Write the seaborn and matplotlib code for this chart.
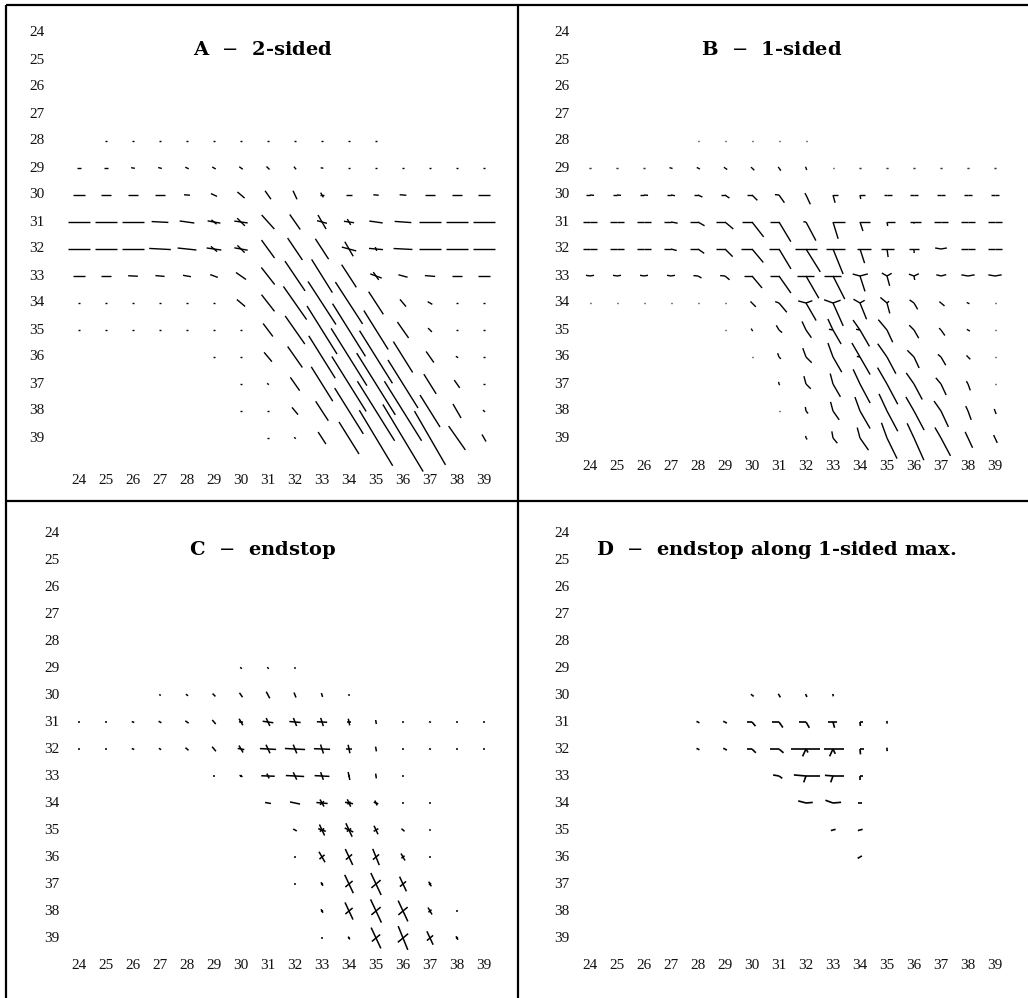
import numpy as np
import pandas as pd
import matplotlib
matplotlib.use("Agg")
import matplotlib.pyplot as plt
from matplotlib.lines import Line2D
import seaborn as sns

sns.set_theme(style="white")
plt.rcParams['font.family'] = ['Liberation Serif', 'DejaVu Serif']
plt.rcParams['mathtext.fontset'] = 'dejavuserif'

# grid positions shown on both axes
GRID = list(range(24, 40))
TICK_LABELS = [str(v) for v in GRID]

# ---------------------------------------------------------------------------
# Orientation fields.  Each row maps to a list of (column, strokes);
# each stroke is (angle in degrees, counter-clockwise from horizontal, length in grid units).
# Two-sided panels draw a bar centred on the grid point, one-sided panels a ray from it.
# ---------------------------------------------------------------------------
A_2SIDED = {
    28: [(25, [(0, .06)]), (26, [(0, .06)]), (27, [(0, .06)]), (28, [(0, .06)]), (29, [(0, .06)]),
         (30, [(0, .06)]), (31, [(0, .06)]), (32, [(0, .06)]), (33, [(0, .06)]), (34, [(0, .06)]),
         (35, [(0, .06)])],
    29: [(24, [(0, .12)]), (25, [(0, .12)]), (26, [(-10, .14)]), (27, [(-15, .14)]), (28, [(-25, .14)]),
         (29, [(-30, .15)]), (30, [(-35, .16)]), (31, [(-45, .16)]), (32, [(-50, .13)]), (33, [(-10, .1)]),
         (34, [(0, .1)]), (35, [(0, .1)]), (36, [(0, .1)]), (37, [(0, .1)]), (38, [(0, .1)]), (39, [(0, .1)])],
    30: [(24, [(0, .42)]), (25, [(0, .4)]), (26, [(0, .4)]), (27, [(0, .38)]), (28, [(-5, .22)]),
         (29, [(-25, .25)]), (30, [(-40, .35)]), (31, [(-55, .38)]), (32, [(-65, .35)]),
         (33, [(-60, .2), (0, .15)]), (34, [(0, .2)]), (35, [(-5, .2)]), (36, [(-5, .25)]),
         (37, [(0, .35)]), (38, [(0, .38)]), (39, [(0, .42)])],
    31: [(24, [(0, .8)]), (25, [(0, .8)]), (26, [(0, .78)]), (27, [(-3, .62)]), (28, [(-8, .55)]),
         (29, [(-10, .48), (-40, .25)]), (30, [(-8, .5), (-45, .4)]), (31, [(-48, .7)]), (32, [(-55, .68)]),
         (33, [(-60, .6), (-15, .38)]), (34, [(-8, .38), (-60, .25)]), (35, [(-8, .5)]), (36, [(-4, .62)]),
         (37, [(0, .8)]), (38, [(0, .82)]), (39, [(0, .85)])],
    32: [(24, [(0, .85)]), (25, [(0, .85)]), (26, [(0, .85)]), (27, [(-3, .8)]), (28, [(-6, .7)]),
         (29, [(-8, .55), (-40, .3)]), (30, [(-10, .5), (-45, .38)]), (31, [(-54, .82)]), (32, [(-56, .98)]),
         (33, [(-57, .9)]), (34, [(-60, .62), (-15, .55)]), (35, [(-5, .52), (-70, .15)]), (36, [(-3, .7)]),
         (37, [(0, .85)]), (38, [(0, .85)]), (39, [(0, .85)])],
    33: [(24, [(0, .42)]), (25, [(0, .38)]), (26, [(-3, .36)]), (27, [(-5, .34)]), (28, [(-10, .3)]),
         (29, [(-20, .3)]), (30, [(-35, .45)]), (31, [(-52, .8)]), (32, [(-56, 1.33)]), (33, [(-58, 1.45)]),
         (34, [(-57, 1.0)]), (35, [(-20, .45), (-55, .35)]), (36, [(-15, .35)]), (37, [(-5, .38)]),
         (38, [(0, .4)]), (39, [(0, .42)])],
    34: [(24, [(0, .07)]), (25, [(0, .07)]), (26, [(0, .07)]), (27, [(0, .07)]), (28, [(0, .07)]),
         (29, [(0, .07)]), (30, [(-40, .4)]), (31, [(-52, .78)]), (32, [(-55, 1.5)]), (33, [(-57, 1.9)]),
         (34, [(-57, 1.85)]), (35, [(-57, 1.0)]), (36, [(-50, .35)]), (37, [(-30, .2)]), (38, [(0, .1)]),
         (39, [(0, .1)])],
    35: [(24, [(0, .05)]), (25, [(0, .05)]), (26, [(0, .05)]), (27, [(0, .05)]), (28, [(0, .05)]),
         (29, [(0, .05)]), (30, [(0, .05)]), (31, [(-53, .6)]), (32, [(-55, 1.27)]), (33, [(-58, 2.1)]),
         (34, [(-58, 2.3)]), (35, [(-58, 1.7)]), (36, [(-55, .72)]), (37, [(-45, .2)]), (38, [(0, .07)]),
         (39, [(0, .07)])],
    36: [(29, [(0, .05)]), (30, [(0, .07)]), (31, [(-50, .45)]), (32, [(-55, .95)]), (33, [(-58, 1.85)]),
         (34, [(-58, 2.5)]), (35, [(-58, 2.3)]), (36, [(-58, 1.35)]), (37, [(-55, .5)]), (38, [(-30, .1)]),
         (39, [(0, .07)])],
    37: [(30, [(0, .05)]), (31, [(-40, .08)]), (32, [(-55, .6)]), (33, [(-58, 1.5)]), (34, [(-58, 2.4)]),
         (35, [(-58, 2.7)]), (36, [(-58, 2.1)]), (37, [(-58, .86)]), (38, [(-55, .35)]), (39, [(0, .07)])],
    38: [(30, [(0, .05)]), (31, [(0, .06)]), (32, [(-50, .35)]), (33, [(-57, .86)]), (34, [(-58, 2.0)]),
         (35, [(-58, 2.6)]), (36, [(-58, 2.6)]), (37, [(-58, 1.4)]), (38, [(-60, .6)]), (39, [(-40, .1)])],
    39: [(31, [(0, .05)]), (32, [(-30, .08)]), (33, [(-57, .53)]), (34, [(-58, 1.4)]), (35, [(-59, 2.4)]),
         (36, [(-59, 2.9)]), (37, [(-60, 2.3)]), (38, [(-55, 1.08)]), (39, [(-60, .3)])],
}

B_1SIDED = {
    28: [(28, [(0, .04)]), (29, [(0, .04)]), (30, [(0, .04)]), (31, [(0, .04)]), (32, [(0, .04)])],
    29: [(24, [(180, .05), (0, .05)]), (25, [(180, .05), (0, .05)]), (26, [(180, .05), (0, .05)]),
         (27, [(170, .06), (-20, .06)]), (28, [(160, .05), (-30, .08)]), (29, [(150, .05), (-35, .1)]),
         (30, [(145, .05), (-45, .12)]), (31, [(130, .05), (-55, .12)]), (32, [(110, .05), (-70, .08)]),
         (33, [(0, .04)]), (34, [(180, .04), (0, .04)]), (35, [(180, .04), (0, .04)]),
         (36, [(180, .04), (0, .04)]), (37, [(180, .04), (0, .04)]), (38, [(180, .04), (0, .04)]),
         (39, [(180, .04), (0, .04)])],
    30: [(24, [(180, .15), (-5, .15)]), (25, [(180, .15), (-5, .15)]), (26, [(180, .15), (-5, .15)]),
         (27, [(180, .15), (-10, .15)]), (28, [(180, .15), (-25, .18)]), (29, [(180, .15), (-35, .2)]),
         (30, [(180, .18), (-45, .28)]), (31, [(175, .15), (-55, .35)]), (32, [(120, .08), (-65, .38)]),
         (33, [(0, .17), (-75, .3)]), (34, [(0, .2), (-80, .15)]), (35, [(180, .1), (0, .2)]),
         (36, [(180, .15), (0, .15)]), (37, [(180, .15), (0, .15)]), (38, [(180, .15), (0, .15)]),
         (39, [(180, .15), (0, .15)])],
    31: [(24, [(180, .27), (0, .25)]), (25, [(180, .27), (0, .25)]), (26, [(180, .27), (0, .25)]),
         (27, [(180, .27), (-10, .25)]), (28, [(180, .3), (-30, .28)]), (29, [(180, .32), (-40, .4)]),
         (30, [(180, .37), (-52, .7)]), (31, [(180, .33), (-59, .85)]), (32, [(175, .1), (-62, .78)]),
         (33, [(0, .43), (-73, .65)]), (34, [(0, .36), (-72, .35)]), (35, [(0, .3), (-80, .15)]),
         (36, [(180, .15), (0, .25), (-85, .06)]), (37, [(180, .27), (0, .27)]),
         (38, [(180, .27), (0, .27)]), (39, [(180, .27), (0, .27)])],
    32: [(24, [(180, .27), (0, .25)]), (25, [(180, .27), (0, .25)]), (26, [(180, .27), (0, .25)]),
         (27, [(180, .27), (-15, .22)]), (28, [(180, .3), (-35, .28)]), (29, [(180, .35), (-45, .4)]),
         (30, [(180, .4), (-50, .65)]), (31, [(180, .37), (-59, .86)]),
         (32, [(180, .42), (0, .4), (-58, 1.0)]), (33, [(180, .25), (0, .45), (-68, 1.0)]),
         (34, [(180, .1), (0, .4), (-72, .55)]), (35, [(180, .22), (0, .25), (-82, .3)]),
         (36, [(180, .2), (0, .2), (-88, .15)]), (37, [(170, .22), (10, .22)]),
         (38, [(180, .27), (0, .27)]), (39, [(180, .27), (0, .27)])],
    33: [(24, [(170, .15), (10, .15)]), (25, [(170, .15), (10, .15)]), (26, [(170, .15), (10, .15)]),
         (27, [(170, .15), (10, .15)]), (28, [(175, .17), (-30, .15)]), (29, [(175, .18), (-40, .22)]),
         (30, [(180, .3), (-50, .58)]), (31, [(180, .35), (-55, .77)]),
         (32, [(180, .35), (0, .3), (-60, .95)]), (33, [(180, .33), (0, .3), (-63, .96)]),
         (34, [(165, .28), (15, .3), (-72, .6)]), (35, [(150, .22), (30, .2), (-75, .38)]),
         (36, [(160, .2), (25, .2), (-80, .15)]), (37, [(165, .18), (15, .2)]),
         (38, [(170, .25), (10, .25)]), (39, [(170, .25), (10, .25)])],
    34: [(24, [(0, .05)]), (25, [(0, .05)]), (26, [(0, .05)]), (27, [(0, .05)]), (28, [(0, .05)]),
         (29, [(0, .05)]), (30, [(135, .08), (-45, .2)]), (31, [(160, .15), (-50, .45)]),
         (32, [(165, .3), (20, .25), (-60, .75)]), (33, [(160, .35), (20, .3), (-66, .93)]),
         (34, [(150, .28), (30, .2), (-68, .65)]), (35, [(140, .32), (40, .1), (-75, .4)]),
         (36, [(145, .2), (-60, .27)]), (37, [(140, .08), (-40, .17)]), (38, [(160, .05), (-30, .06)]),
         (39, [(0, .04)])],
    35: [(29, [(0, .04)]), (30, [(120, .06), (-60, .05)]), (31, [(120, .2), (-40, .15)]),
         (32, [(115, .35), (-55, .35)]), (33, [(115, .45), (-60, .6), (170, .15)]),
         (34, [(125, .45), (-60, .7), (170, .15)]), (35, [(130, .5), (-65, .5)]),
         (36, [(135, .25), (-60, .35)]), (37, [(135, .1), (-55, .25)]), (38, [(150, .05), (-30, .08)]),
         (39, [(0, .04)])],
    36: [(30, [(0, .04)]), (31, [(110, .15), (-45, .1)]), (32, [(110, .35), (-45, .3)]),
         (33, [(110, .55), (-60, .65)]), (34, [(120, .6), (-60, .75), (170, .12)]),
         (35, [(125, .6), (-62, .7)]), (36, [(135, .35), (-65, .45)]), (37, [(140, .15), (-60, .35)]),
         (38, [(135, .08), (-45, .12)]), (39, [(0, .04)])],
    37: [(31, [(100, .08), (-60, .05)]), (32, [(105, .3), (-45, .25)]), (33, [(105, .4), (-60, .55)]),
         (34, [(115, .6), (-62, .8)]), (35, [(120, .7), (-62, .85)]), (36, [(125, .5), (-62, .65)]),
         (37, [(130, .3), (-65, .45)]), (38, [(120, .12), (-70, .25)]), (39, [(0, .04)])],
    38: [(31, [(0, .04)]), (32, [(100, .15), (-50, .12)]), (33, [(105, .35), (-55, .4)]),
         (34, [(110, .55), (-60, .75)]), (35, [(115, .7), (-62, .85)]), (36, [(120, .6), (-62, .8)]),
         (37, [(125, .45), (-65, .65)]), (38, [(115, .2), (-70, .35)]), (39, [(110, .08), (-70, .12)])],
    39: [(32, [(100, .08), (-50, .07)]), (33, [(100, .25), (-50, .25)]), (34, [(105, .4), (-55, .55)]),
         (35, [(110, .6), (-64, .85)]), (36, [(115, .6), (-66, .9)]), (37, [(120, .45), (-62, .75)]),
         (38, [(115, .25), (-65, .4)]), (39, [(115, .12), (-65, .2)])],
}

C_ENDSTOP = {
    29: [(30, [(-40, .08)]), (31, [(-50, .08)]), (32, [(-55, .07)])],
    30: [(27, [(-30, .07)]), (28, [(-35, .1)]), (29, [(-45, .15)]), (30, [(-55, .2)]), (31, [(-62, .28)]),
         (32, [(-68, .2)]), (33, [(-72, .15)]), (34, [(-80, .07)])],
    31: [(24, [(0, .06)]), (25, [(0, .06)]), (26, [(-20, .1)]), (27, [(-30, .12)]), (28, [(-35, .15)]),
         (29, [(-50, .2)]), (30, [(-60, .28), (-5, .15)]), (31, [(-65, .32), (-8, .4)]),
         (32, [(-68, .32), (-5, .42)]), (33, [(-72, .32), (-3, .38)]), (34, [(-78, .25), (0, .18)]),
         (35, [(-80, .15)]), (36, [(0, .06)]), (37, [(-20, .08)]), (38, [(0, .06)]), (39, [(0, .06)])],
    32: [(24, [(0, .06)]), (25, [(0, .06)]), (26, [(-20, .1)]), (27, [(-30, .1)]), (28, [(-40, .15)]),
         (29, [(-50, .22)]), (30, [(-60, .3), (-10, .25)]), (31, [(-65, .35), (-3, .6)]),
         (32, [(-68, .35), (-3, .75)]), (33, [(-72, .35), (-2, .6)]), (34, [(-78, .32), (0, .22)]),
         (35, [(-80, .18)]), (36, [(0, .06)]), (37, [(-15, .08)]), (38, [(0, .06)]), (39, [(0, .06)])],
    33: [(29, [(0, .05)]), (30, [(-30, .12), (20, .08)]), (31, [(-2, .5), (-65, .2)]),
         (32, [(-3, .68), (-65, .3)]), (33, [(-3, .55), (-70, .3)]), (34, [(-78, .3), (0, .1)]),
         (35, [(-82, .18)]), (36, [(0, .06)])],
    34: [(31, [(-10, .22)]), (32, [(-12, .38)]), (33, [(-5, .42), (-60, .3), (40, .2)]),
         (34, [(-10, .3), (-65, .3), (40, .15)]), (35, [(-20, .18), (-65, .2)]), (36, [(0, .06)]),
         (37, [(0, .06)])],
    35: [(32, [(-30, .15)]), (33, [(-65, .45), (-20, .3), (35, .2)]), (34, [(-65, .55), (-25, .35), (35, .2)]),
         (35, [(-65, .35), (30, .2)]), (36, [(-40, .15)]), (37, [(-30, .07)])],
    36: [(32, [(0, .06)]), (33, [(-60, .45), (40, .25)]), (34, [(-65, .65), (40, .3)]),
         (35, [(-68, .65), (40, .3)]), (36, [(-60, .3), (40, .15)]), (37, [(0, .08)])],
    37: [(32, [(0, .06)]), (33, [(-60, .15), (40, .08)]), (34, [(-65, .75), (40, .35)]),
         (35, [(-65, .9), (40, .45)]), (36, [(-65, .6), (40, .3)]), (37, [(-60, .2), (40, .1)])],
    38: [(33, [(-60, .15), (40, .08)]), (34, [(-65, .7), (40, .35)]), (35, [(-65, .95), (40, .45)]),
         (36, [(-65, .85), (40, .45)]), (37, [(-60, .3), (40, .15)]), (38, [(0, .06)])],
    39: [(33, [(0, .06)]), (34, [(-60, .12), (40, .06)]), (35, [(-65, .85), (40, .4)]),
         (36, [(-68, .95), (40, .5)]), (37, [(-65, .55), (40, .3)]), (38, [(-60, .15), (40, .08)])],
}

D_ENDSTOP_1SIDED = {
    30: [(30, [(150, .05), (-40, .08)]), (31, [(120, .05), (-60, .1)]), (32, [(110, .04), (-65, .08)]),
         (33, [(100, .04), (-75, .05)])],
    31: [(28, [(160, .06), (-30, .06)]), (29, [(160, .07), (-35, .08)]), (30, [(180, .2), (-50, .2)]),
         (31, [(180, .25), (-55, .25)]), (32, [(180, .25), (-60, .25)]),
         (33, [(180, .18), (0, .15), (-75, .22)]), (34, [(0, .1), (-85, .15)]), (35, [(95, .04), (-85, .06)])],
    32: [(28, [(160, .06), (-30, .06)]), (29, [(160, .07), (-35, .08)]), (30, [(180, .2), (-45, .2)]),
         (31, [(180, .35), (-40, .22)]), (32, [(180, .55), (0, .5), (-115, .3), (-60, .15)]),
         (33, [(180, .35), (0, .4), (-115, .3), (-65, .2)]), (34, [(0, .15), (-85, .2)]),
         (35, [(95, .05), (-85, .08)])],
    33: [(31, [(170, .22), (-35, .15)]), (32, [(175, .45), (0, .5), (-110, .25)]),
         (33, [(175, .3), (0, .4), (-110, .25)]), (34, [(0, .1), (-90, .15)])],
    34: [(32, [(165, .3), (5, .25)]), (33, [(160, .3), (5, .3)]), (34, [(180, .08), (0, .08)])],
    35: [(33, [(195, .08), (15, .1)]), (34, [(195, .08), (15, .1)])],
    36: [(34, [(210, .1), (30, .08)])],
}

PANEL_TITLES = ["A  $-$  2-sided", "B  $-$  1-sided", "C  $-$  endstop",
                "D  $-$  endstop along 1-sided max."]

W, H = 1028, 998
STEP = 27.0          # pixels per grid unit
MID_X, MID_Y = 518, 501

panels = [
    # glyphs, two-sided, box (l, t, r, b), grid origin, y-label x, x-label y, title centre, line width
    dict(glyphs=A_2SIDED, two=True, box=(6, 5, MID_X, MID_Y), origin=(79, 33),
         ylab_x=37, xlab_y=480, title_xy=(263, 50), lw=1.0),
    dict(glyphs=B_1SIDED, two=False, box=(MID_X, 5, W, MID_Y), origin=(590, 33),
         ylab_x=562, xlab_y=467, title_xy=(772, 50), lw=1.0),
    dict(glyphs=C_ENDSTOP, two=True, box=(6, MID_Y, MID_X, H), origin=(79, 533),
         ylab_x=52, xlab_y=965, title_xy=(263, 550), lw=1.1),
    dict(glyphs=D_ENDSTOP_1SIDED, two=False, box=(MID_X, MID_Y, W, H), origin=(590, 533),
         ylab_x=562, xlab_y=965, title_xy=(776, 550), lw=1.2),
]


def segments(glyphs, two_sided):
    recs = []
    k = 0
    for row, cells in glyphs.items():
        for col, strokes in cells:
            for ang, ln in strokes:
                t = np.deg2rad(ang)
                dx, dy = np.cos(t) * ln, -np.sin(t) * ln   # rows grow downwards
                if two_sided:
                    p0 = (col - dx / 2, row - dy / 2)
                    p1 = (col + dx / 2, row + dy / 2)
                else:
                    p0 = (col, row)
                    p1 = (col + dx, row + dy)
                recs.append((k, p0[0], p0[1]))
                recs.append((k, p1[0], p1[1]))
                k += 1
    return pd.DataFrame(recs, columns=["seg", "x", "y"])


fig = plt.figure(figsize=(W / 100, H / 100), dpi=100)
fig.patch.set_facecolor("white")

for p, title in zip(panels, PANEL_TITLES):
    l, t, r, b = p["box"]
    x0, y0 = p["origin"]
    ax = fig.add_axes([l / W, 1 - b / H, (r - l) / W, (b - t) / H])
    ax.set_xlim(24 + (l - x0) / STEP, 24 + (r - x0) / STEP)
    ax.set_ylim(24 + (b - y0) / STEP, 24 + (t - y0) / STEP)
    ax.axis("off")

    fx = lambda px: 24 + (px - x0) / STEP
    fy = lambda py: 24 + (py - y0) / STEP

    df = segments(p["glyphs"], p["two"])
    sns.lineplot(data=df, x="x", y="y", units="seg", estimator=None, sort=False,
                 color="black", lw=p["lw"], ax=ax, legend=False)
    for line in ax.lines:
        line.set_solid_capstyle("butt")

    for v, lab in zip(GRID, TICK_LABELS):
        ax.text(fx(p["ylab_x"]), v, lab, ha="center", va="center", fontsize=11, color="#111111")
        ax.text(v, fy(p["xlab_y"]), lab, ha="center", va="center", fontsize=11, color="#111111")

    ax.text(fx(p["title_xy"][0]), fy(p["title_xy"][1]), title, ha="center", va="center",
            fontsize=14, fontweight="bold", family="DejaVu Serif", color="black")

# panel frame
frame = dict(color="black", lw=1.6, transform=fig.transFigure, solid_capstyle="butt")
fig.add_artist(Line2D([6 / W, 1], [1 - 5 / H, 1 - 5 / H], **frame))
fig.add_artist(Line2D([6 / W, 6 / W], [0, 1 - 5 / H], **frame))
fig.add_artist(Line2D([MID_X / W, MID_X / W], [0, 1 - 5 / H], **frame))
fig.add_artist(Line2D([6 / W, 1], [1 - MID_Y / H, 1 - MID_Y / H], **frame))

fig.savefig("out.png", dpi=100, facecolor="white")
